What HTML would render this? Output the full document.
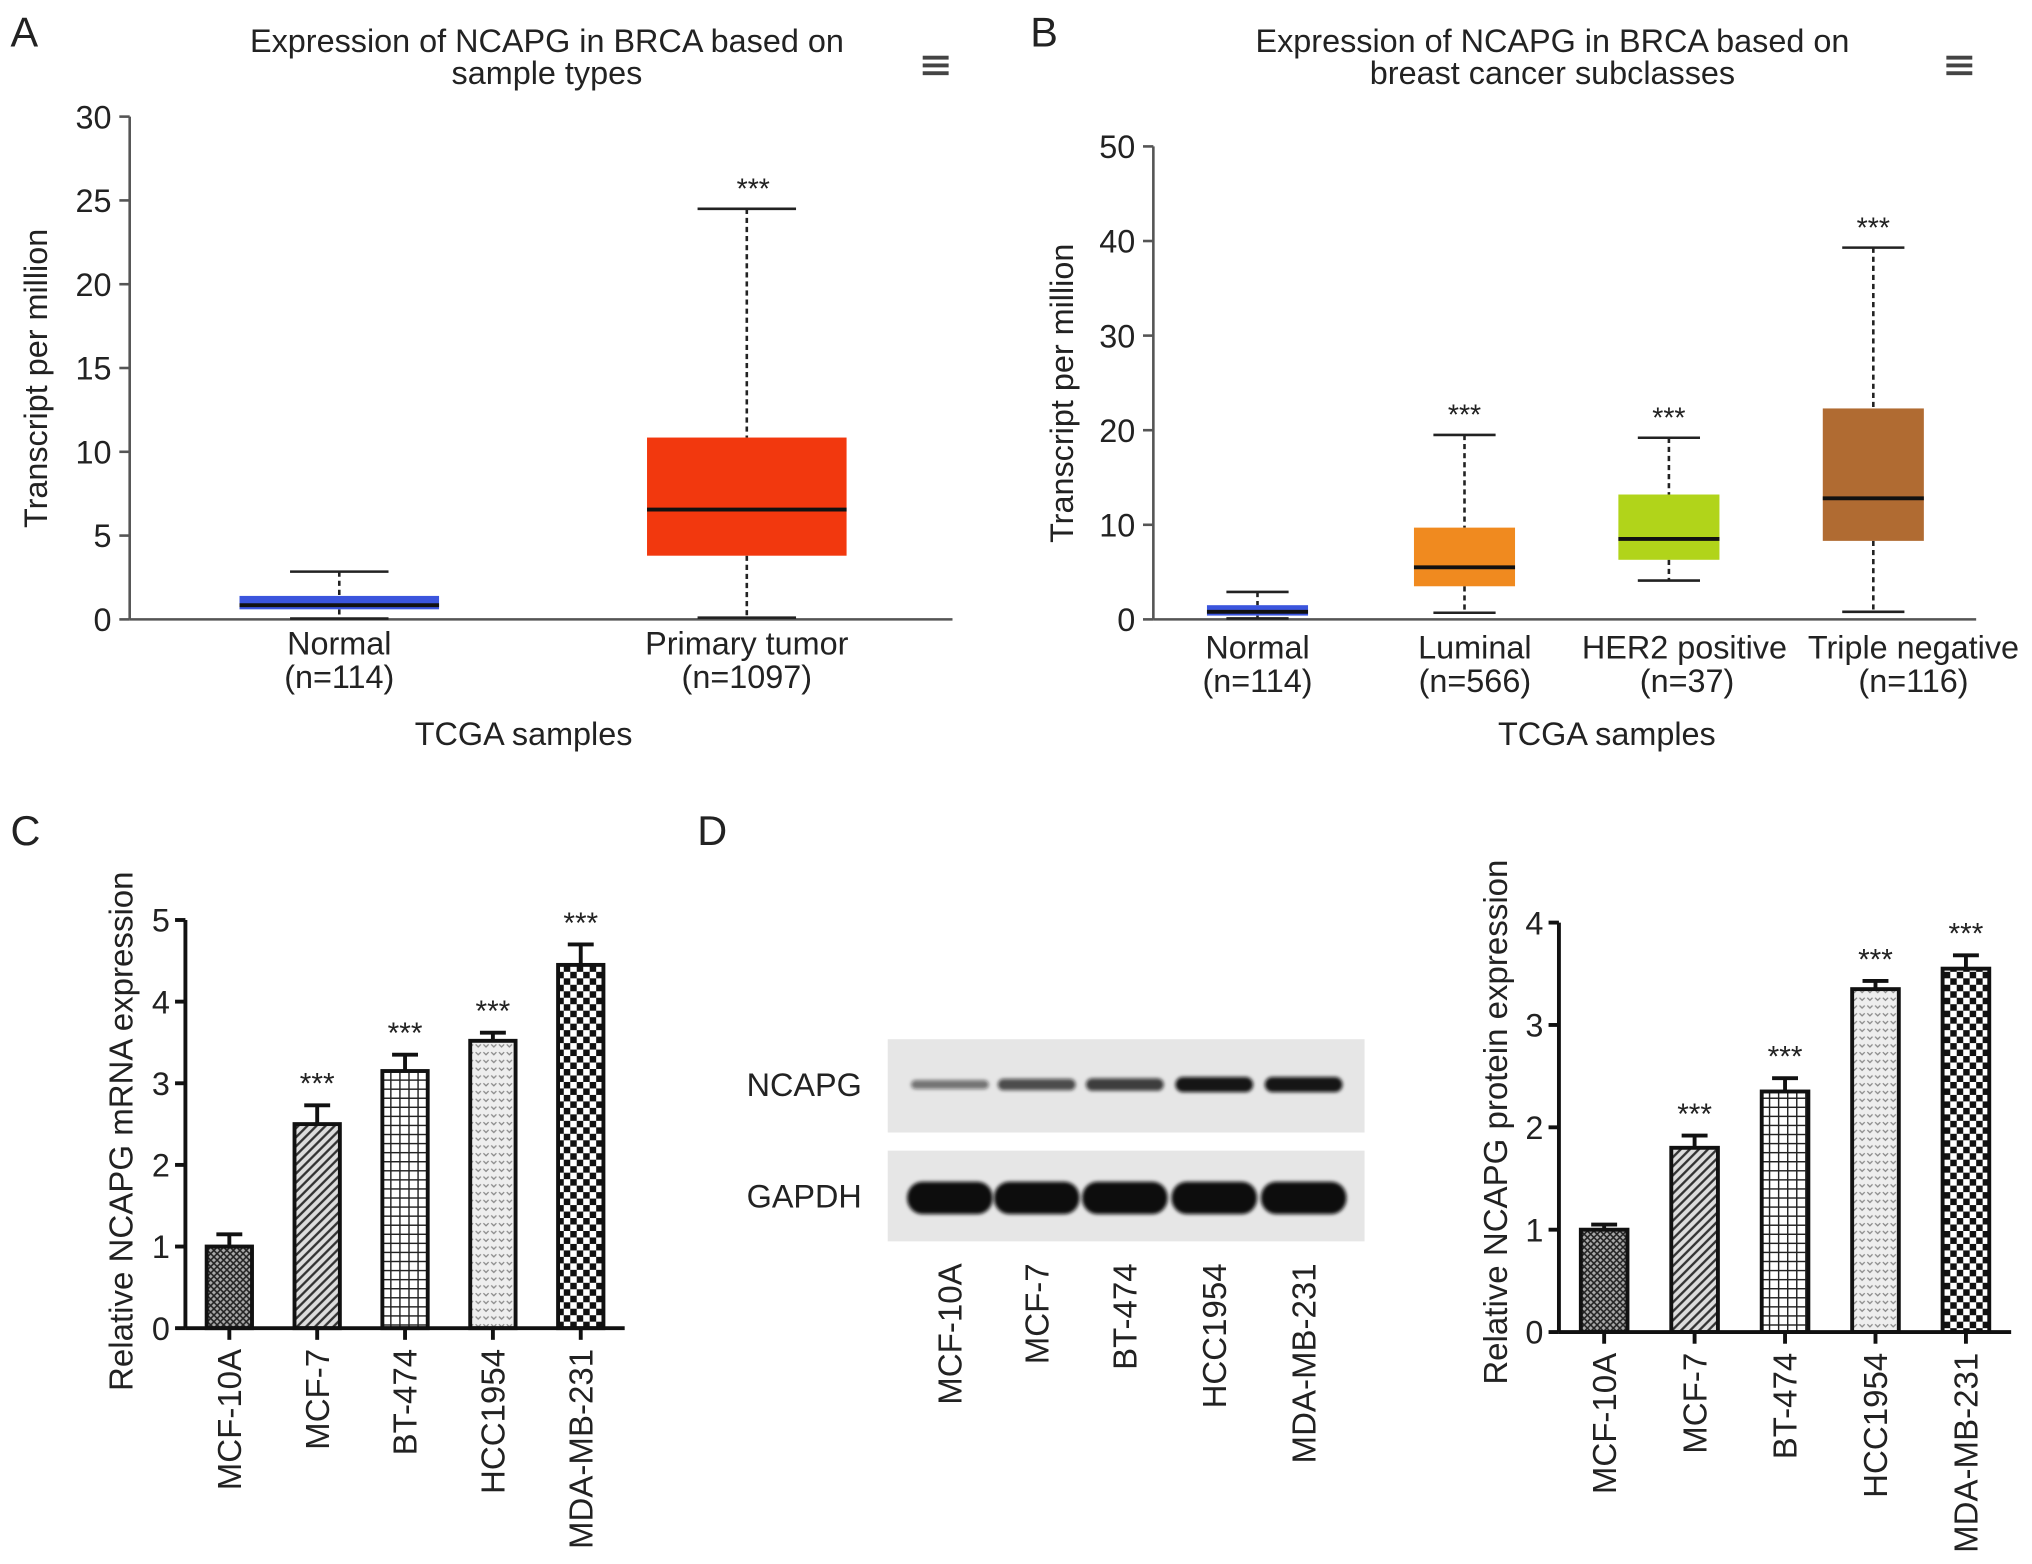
<!DOCTYPE html>
<html><head><meta charset="utf-8"><style>
html,body{margin:0;padding:0;background:#fff}
svg{display:block}
text{font-family:"Liberation Sans",Arial,sans-serif;fill:#222}
</style></head><body>
<svg id="fig" width="2032" height="1564" viewBox="0 0 1568 1207" xmlns="http://www.w3.org/2000/svg">
<defs>
<pattern id="p-cross" width="5" height="5" patternUnits="userSpaceOnUse"><rect width="5" height="5" fill="#aaa"/><path d="M0 0L5 5M5 0L0 5" stroke="#222" stroke-width="1.2"/></pattern>
<pattern id="p-diag" width="7" height="7" patternUnits="userSpaceOnUse"><rect width="7" height="7" fill="#ddd"/><path d="M-1 8L8 -1M-1 1L1 -1M6 8L8 6" stroke="#333" stroke-width="1.8"/></pattern>
<pattern id="p-grid" width="7" height="7" patternUnits="userSpaceOnUse"><rect width="7" height="7" fill="#fff"/><path d="M0 0.5H7M0.5 0V7" stroke="#222" stroke-width="1.2"/></pattern>
<pattern id="p-dot" width="6" height="6" patternUnits="userSpaceOnUse"><rect width="6" height="6" fill="#eee"/><path d="M1 2L3 4L5 2" stroke="#888" stroke-width="1" fill="none"/></pattern>
<pattern id="p-check" width="10" height="10" patternUnits="userSpaceOnUse"><rect width="10" height="10" fill="#fff"/><rect width="5" height="5" fill="#111"/><rect x="5" y="5" width="5" height="5" fill="#111"/></pattern>
<filter id="blur" x="-20%" y="-50%" width="140%" height="200%"><feGaussianBlur stdDeviation="1.5"/></filter>
</defs>
<g id="root"></g>
</svg>
<script>
// Panel A data
const aCats=["Normal","Primary tumor"];
const aN=["(n=114)","(n=1097)"];
const aMin=[0.05,0.1],aQ1=[0.6,3.8],aMed=[0.85,6.55],aQ3=[1.4,10.85],aMax=[2.85,24.5];
const aSig=["","***"];
const aTicks=[0,5,10,15,20,25,30];
// Panel B data
const bCats=["Normal","Luminal","HER2 positive","Triple negative"];
const bN=["(n=114)","(n=566)","(n=37)","(n=116)"];
const bMin=[0.1,0.7,4.1,0.8],bQ1=[0.4,3.5,6.3,8.3],bMed=[0.8,5.5,8.5,12.8],bQ3=[1.5,9.7,13.2,22.3],bMax=[2.9,19.5,19.2,39.3];
const bSig=["","***","***","***"];
const bTicks=[0,10,20,30,40,50];
// Panel C data
const cellLines=["MCF-10A","MCF-7","BT-474","HCC1954","MDA-MB-231"];
const cVals=[1.0,2.5,3.15,3.52,4.45];
const cErr=[0.15,0.23,0.2,0.1,0.25];
const cSig=["","***","***","***","***"];
const cTicks=[0,1,2,3,4,5];
// Panel D data
const dVals=[1.0,1.8,2.35,3.35,3.55];
const dErr=[0.05,0.12,0.13,0.08,0.13];
const dSig=["","***","***","***","***"];
const dTicks=[0,1,2,3,4];
const ncapgBand=[0.35,0.6,0.7,0.95,0.95];

const NS="http://www.w3.org/2000/svg";
const root=document.getElementById('root');
function el(tag,attrs,parent,txt){const e=document.createElementNS(NS,tag);for(const k in attrs)e.setAttribute(k,attrs[k]);if(txt!==undefined)e.textContent=txt;(parent||root).appendChild(e);return e;}
function grp(name,parent){const g=el('g',{},parent);return g;}
function txt(name,x,y,s,size,anchor,parent,extra){const t=el('text',Object.assign({x:x,y:y,'font-size':size,'text-anchor':anchor||'middle'},extra||{}),parent,s);return t;}
function line(x1,y1,x2,y2,p,st){return el('line',Object.assign({x1,y1,x2,y2,stroke:'#333','stroke-width':2},st||{}),p);}

function boxPlot(name,o){
  const g=grp(name);
  const sy=v=>o.y0-(v/o.ymax)*(o.y0-o.ytop);
  txt('panel-label',o.lx,o.ly,o.letter,32,'start',g);
  txt('chart-title',o.tcx,40,o.title[0],25,'middle',g);
  txt('chart-title-2',o.tcx,65,o.title[1],25,'middle',g);
  const h=grp('menu-icon',g);
  for(let i=0;i<3;i++)el('rect',{x:o.hx-10,y:43+i*6,width:20,height:3,fill:'#444'},h);
  const ax=grp('y-axis',g);
  line(o.x0,o.ytop,o.x0,o.y0,ax,{stroke:'#555'});
  o.ticks.forEach(t=>{line(o.x0-8,sy(t),o.x0,sy(t),ax,{stroke:'#555'});txt('y-tick-label',o.x0-14,sy(t)+9,String(t),25,'end',ax);});
  const xa=grp('x-axis',g);
  line(o.x0,o.y0,o.x1,o.y0,xa,{stroke:'#555'});
  txt('y-axis-title',0,0,'Transcript per million',25,'middle',g,{transform:`translate(${o.ylx},${(o.ytop+o.y0)/2+8}) rotate(-90)`});
  txt('x-axis-title',o.xtx,575,'TCGA samples',25,'middle',g);
  const step=(o.x1-o.x0)/o.cats.length;
  o.cats.forEach((c,i)=>{
    const cx=o.x0+step*(i+0.5)+(o.shift?o.shift[i]:0);
    const b=grp('box-'+c.toLowerCase().replace(/\s+/g,'-'),g);
    line(cx,sy(o.max[i]),cx,sy(o.q3[i]),b,{'stroke-dasharray':'4,3',stroke:'#222'});
    line(cx,sy(o.q1[i]),cx,sy(o.min[i]),b,{'stroke-dasharray':'4,3',stroke:'#222'});
    line(cx-o.cap,sy(o.max[i]),cx+o.cap,sy(o.max[i]),b,{stroke:'#222'});
    line(cx-o.cap,sy(o.min[i]),cx+o.cap,sy(o.min[i]),b,{stroke:'#222'});
    el('rect',{x:cx-o.bw/2,y:sy(o.q3[i]),width:o.bw,height:sy(o.q1[i])-sy(o.q3[i]),fill:o.colors[i]},b);
    line(cx-o.bw/2,sy(o.med[i]),cx+o.bw/2,sy(o.med[i]),b,{stroke:'#111','stroke-width':3});
    if(o.sig[i])txt('significance-stars',cx+(o.starShift||0),sy(o.max[i])-8,o.sig[i],22,'middle',b,{fill:'#555'});
    txt('x-tick-label',cx+(o.lshift?o.lshift[i]:0),o.xly,c,25,'middle',b);
    txt('x-tick-n',cx+(o.nshift?o.nshift[i]:0),o.xly+26,o.n[i],25,'middle',b);
  });
}
boxPlot('panel-a',{letter:'A',lx:8,ly:36,title:['Expression of NCAPG in BRCA based on','sample types'],tcx:422,hx:722,x0:100,x1:735,y0:478,ytop:90,ymax:30,ticks:aTicks,ylx:36,xtx:404,cats:aCats,n:aN,min:aMin,q1:aQ1,med:aMed,q3:aQ3,max:aMax,sig:aSig,colors:['#3b55dd','#f2380e'],bw:154,cap:38,xly:505,shift:[3,0],starShift:5});
boxPlot('panel-b',{letter:'B',lx:795,ly:36,title:['Expression of NCAPG in BRCA based on','breast cancer subclasses'],tcx:1198,hx:1512,x0:890,x1:1525,y0:478,ytop:113,ymax:50,ticks:bTicks,ylx:828,xtx:1240,cats:bCats,n:bN,min:bMin,q1:bQ1,med:bMed,q3:bQ3,max:bMax,sig:bSig,colors:['#3b55dd','#f08a1f','#b1d41a','#b06b32'],bw:78,cap:24,xly:508,shift:[1,2,1,0],lshift:[0,8,12,31],nshift:[0,8,14,31]});

function barChart(name,o){
  const g=grp(name);
  const sy=v=>o.y0-(v/o.ymax)*(o.y0-o.ytop);
  const ax=grp('y-axis',g);
  line(o.x0,o.ytop,o.x0,o.y0,ax,{stroke:'#111','stroke-width':3});
  o.ticks.forEach(t=>{line(o.x0-8,sy(t),o.x0,sy(t),ax,{stroke:'#111','stroke-width':3});txt('y-tick-label',o.x0-12,sy(t)+9,String(t),25,'end',ax);});
  txt('y-axis-title',0,0,o.ytitle,25.5,'middle',g,{transform:`translate(${o.ylx},${o.ylcy}) rotate(-90)`});
  const step=(o.x1-o.x0)/o.vals.length;
  const pats=['p-cross','p-diag','p-grid','p-dot','p-check'];
  o.vals.forEach((v,i)=>{
    const cx=o.x0+step*(i+0.5);
    const b=grp('bar-'+cellLines[i].toLowerCase(),g);
    line(cx,sy(v),cx,sy(v+o.err[i]),b,{stroke:'#111','stroke-width':3});
    line(cx-10,sy(v+o.err[i]),cx+10,sy(v+o.err[i]),b,{stroke:'#111','stroke-width':3});
    el('rect',{x:cx-o.bw/2,y:sy(v),width:o.bw,height:o.y0-sy(v),fill:`url(#${pats[i]})`,stroke:'#111','stroke-width':3},b);
    line(cx,o.y0,cx,o.y0+9,b,{stroke:'#111','stroke-width':3});
    if(o.sig[i])txt('significance-stars',cx,sy(v+o.err[i])-9,o.sig[i],23,'middle',b,{fill:'#666'});
    txt('x-tick-label',0,0,cellLines[i],25.5,'end',b,{transform:`translate(${cx+9},${o.y0+16}) rotate(-90)`});
  });
  const xa=grp('x-axis',g);
  line(o.x0,o.y0,o.x1,o.y0,xa,{stroke:'#111','stroke-width':3});
}
txt('panel-label-c',8,652,'C',32,'start');
barChart('panel-c',{x0:143,x1:482,y0:1025,ytop:710,ymax:5,ticks:cTicks,vals:cVals,err:cErr,sig:cSig,bw:35,ytitle:'Relative NCAPG mRNA expression',ylx:102,ylcy:873});
barChart('panel-d-chart',{x0:1203,x1:1552,y0:1028,ytop:712,ymax:4,ticks:dTicks,vals:dVals,err:dErr,sig:dSig,bw:36,ytitle:'Relative NCAPG protein expression',ylx:1163,ylcy:866});

// Western blot
txt('panel-label-d',538,652,'D',32,'start');
const wb=grp('western-blot');
el('rect',{x:685,y:802,width:368,height:72,fill:'#e6e6e6'},wb);
el('rect',{x:685,y:888,width:368,height:70,fill:'#e6e6e6'},wb);
txt('ncapg-label',665,846,'NCAPG',25,'end',wb);
txt('gapdh-label',665,932,'GAPDH',25,'end',wb);
const laneX=[733,800,868,937,1006];
laneX.forEach((x,i)=>{
  const bh=4+ncapgBand[i]*8;
  el('rect',{x:x-30,y:837-bh/2,width:60,height:bh,rx:bh/2,fill:'#111','fill-opacity':0.3+ncapgBand[i]*0.7,filter:'url(#blur)'},wb);
  el('rect',{x:x-33,y:912,width:66,height:25,rx:12,fill:'#0a0a0a',filter:'url(#blur)'},wb);
  txt('lane-label',0,0,cellLines[i],25.5,'end',wb,{transform:`translate(${x+9},${975}) rotate(-90)`});
});
</script>
</body></html>
